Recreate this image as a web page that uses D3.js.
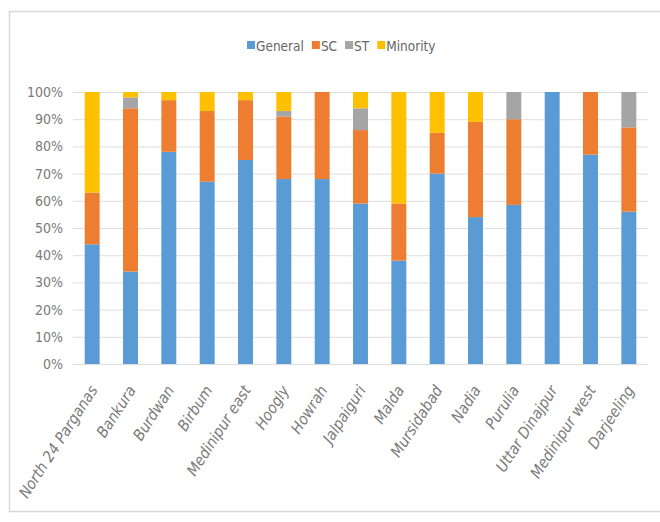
<!DOCTYPE html>
<html>
<head>
<meta charset="utf-8">
<script src="https://cdn.jsdelivr.net/npm/d3@7"></script>
<style>
  html, body { margin: 0; padding: 0; background: #fff; }
  svg { display: block; }
  text { font-family: "DejaVu Sans Condensed", "Liberation Sans", sans-serif; }
</style>
</head>
<body>
<svg id="chart" width="660" height="522"></svg>
<script>
// District-wise composition (%) of the four social groups
const districts = ["North 24 Parganas", "Bankura", "Burdwan", "Birbum", "Medinipur east",
  "Hoogly", "Howrah", "Jalpaiguri", "Malda", "Mursidabad", "Nadia", "Purulia",
  "Uttar Dinajpur", "Medinipur west", "Darjeeling"];
const general  = [44, 34, 78, 67, 75, 68, 68, 59, 38, 70, 54, 58.5, 100, 77, 56];
const sc       = [19, 60, 19, 26, 22, 23, 32, 27, 21, 15, 35, 31.5, 0, 23, 31];
const st       = [0, 4, 0, 0, 0, 2, 0, 8, 0, 0, 0, 10, 0, 0, 13];
const minority = [37, 2, 3, 7, 3, 7, 0, 6, 41, 15, 11, 0, 0, 0, 0];
const seriesNames = ["General", "SC", "ST", "Minority"];
const seriesColors = ["#5B9BD5", "#ED7D31", "#A5A5A5", "#FFC000"];
const yTicks = [0, 10, 20, 30, 40, 50, 60, 70, 80, 90, 100];

const rows = districts.map((d, i) => ({
  district: d, General: general[i], SC: sc[i], ST: st[i], Minority: minority[i]
}));

const svg = d3.select("#chart");

// outer chart frame
svg.append("rect")
  .attr("x", 9.5).attr("y", 11.5).attr("width", 700).attr("height", 500)
  .attr("fill", "#fff").attr("stroke", "#d8d8d8").attr("stroke-width", 1.5);

const plot = { left: 73, right: 648, top: 92, bottom: 364 };

const x = d3.scaleBand().domain(districts).range([plot.left, plot.right]).paddingInner(0.61).paddingOuter(0.305);
const y = d3.scaleLinear().domain([0, 100]).range([plot.bottom, plot.top]);
const color = d3.scaleOrdinal().domain(seriesNames).range(seriesColors);

// gridlines
svg.append("g").selectAll("line").data(yTicks).join("line")
  .attr("x1", plot.left).attr("x2", plot.right)
  .attr("y1", d => y(d) + 0.5).attr("y2", d => y(d) + 0.5)
  .attr("stroke", "#dedede").attr("stroke-width", 1);

// y-axis labels
const yAxis = d3.axisLeft(y).tickValues(yTicks).tickFormat(d => d + "%").tickSize(0).tickPadding(0);
const yg = svg.append("g").attr("transform", `translate(${plot.left - 10},0)`).call(yAxis);
yg.select(".domain").remove();
yg.selectAll("text").attr("fill", "#7a7a7a").attr("font-size", 14)
  .style("font-family", "'DejaVu Sans Condensed', sans-serif");

// stacked bars
const stack = d3.stack().keys(seriesNames);
const layers = stack(rows);
svg.append("g").selectAll("g").data(layers).join("g")
  .attr("fill", d => color(d.key))
  .selectAll("rect").data(d => d).join("rect")
  .attr("x", d => x(d.data.district))
  .attr("width", x.bandwidth())
  .attr("y", d => y(d[1]))
  .attr("height", d => y(d[0]) - y(d[1]));

// x-axis labels
const xAxis = d3.axisBottom(x).tickSize(0).tickPadding(0);
const xg = svg.append("g").attr("transform", `translate(0,${plot.bottom})`).call(xAxis);
xg.select(".domain").remove();
xg.selectAll("text")
  .attr("fill", "#7a7a7a").attr("font-size", 15.5).attr("font-style", "italic")
  .attr("text-anchor", "end").attr("dy", null).attr("y", 0)
  .attr("transform", "translate(6,26) rotate(-57)")
  .style("font-family", "'DejaVu Sans Condensed', sans-serif");

// legend
const legend = svg.append("g").attr("font-size", 13.5);
let lx = 247;
seriesNames.forEach(name => {
  legend.append("rect").attr("x", lx).attr("y", 41).attr("width", 8).attr("height", 8).attr("fill", color(name));
  const t = legend.append("text").attr("x", lx + 9).attr("y", 50.5).attr("fill", "#666").text(name);
  lx += 9 + t.node().getComputedTextLength() + 8;
});
</script>
</body>
</html>
